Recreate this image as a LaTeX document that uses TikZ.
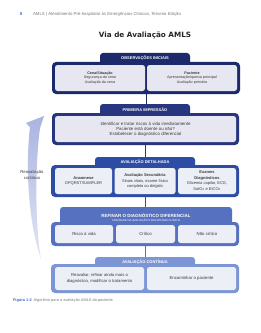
\documentclass[tikz,border=0pt]{standalone}
\usepackage{fontspec}
\setmainfont{Liberation Sans}
\newfontfamily\titlefont{DejaVu Sans}
\definecolor{cA}{HTML}{1C2A6C}
\definecolor{cB}{HTML}{27367F}
\definecolor{cC}{HTML}{2D4DA5}
\definecolor{cD}{HTML}{5671BF}
\definecolor{cE}{HTML}{7C95D5}
\definecolor{panA}{HTML}{E6E7F1}
\definecolor{panB}{HTML}{EDEFF7}
\definecolor{txt}{HTML}{3A3A3A}
\definecolor{hdr}{HTML}{7A7A7A}
\definecolor{figblue}{HTML}{3D6BC4}
\definecolor{arrTop}{HTML}{A9B4E0}
\definecolor{arrBot}{HTML}{E2E6F5}
\tikzset{
  x=2pt, y=-2pt,
  bigbox/.style={rounded corners=8pt, inner sep=0pt, minimum width=376pt},
  tabshape/.style={rounded corners=6pt, inner sep=0pt},
  tablabel/.style={text=white, inner sep=0pt, font=\bfseries\fontsize{8}{9}\selectfont},
  panel/.style={rounded corners=5pt, fill=#1, inner sep=1pt, align=center, text=txt, font=\fontsize{8.6}{10}\selectfont},
  panel/.default=panB,
  conn/.style={line width=2pt},
}
\begin{document}
\begin{tikzpicture}
\useasboundingbox[fill=white] (0,0) rectangle (260,333);

% header
\node[text=figblue, font=\bfseries\fontsize{8.5}{9}\selectfont, inner sep=0pt] (pg) at (21,14) {8};
\node[text=hdr, anchor=west, inner sep=0pt, font=\fontsize{8.6}{9}\selectfont] (hd) at (33,14) {AMLS | Atendimento Pré-hospitalar às Emergências Clínicas, Terceira Edição};

% title
\node[font=\titlefont\bfseries\fontsize{14.5}{16}\selectfont, text=black!85, inner sep=0pt] (title) at (145,35) {Via de Avaliação AMLS};

% continuous reassessment arrow
\shade[top color=arrTop, bottom color=arrBot]
  (41,259) .. controls (35,225) and (35,165) .. (40,128) -- (44,116) -- (26,123) -- (30,127)
  .. controls (25,170) and (29,225) .. (41,259) -- cycle;
\node[align=center, text=txt, inner sep=0pt, font=\fontsize{8.4}{11.5}\selectfont] (reav) at (32,175) {Reavaliação\\contínua};

% box 1
\node[bigbox, fill=cA, minimum height=64pt] (b1) at (146,78) {};
\node[tabshape, fill=cA, minimum width=180pt, minimum height=26pt] (t1) at (145,59.5) {};
\node[tablabel] (l1) at (145,58.5) {OBSERVAÇÕES INICIAIS};
\node[panel=panA, minimum width=180pt, minimum height=52pt, font=\fontsize{7.4}{8.2}\selectfont] (p1a) at (100,78) {\textbf{Cena/Situação}\\Segurança da cena\\Avaliação da cena};
\node[panel=panA, minimum width=180pt, minimum height=52pt, font=\fontsize{7.4}{8.2}\selectfont] (p1b) at (192,78) {\textbf{Paciente}\\Apresentação/queixa principal\\Avaliação primária};

% box 2
\node[bigbox, fill=cB, minimum height=64pt, minimum width=374pt] (b2) at (145.5,129) {};
\node[tabshape, fill=cB, minimum width=180pt, minimum height=26pt] (t2) at (145,110.5) {};
\node[tablabel] (l2) at (145,109.5) {PRIMEIRA IMPRESSÃO};
\node[panel=panA, minimum width=362pt, minimum height=52pt, font=\fontsize{8.8}{10}\selectfont] (p2) at (145.5,129) {Identificar e tratar riscos à vida imediatamente\\Paciente está doente ou não?\\Estabelecer o diagnóstico diferencial};

% box 3
\node[bigbox, fill=cC, minimum height=64pt] (b3) at (145,181) {};
\node[tabshape, fill=cC, minimum width=200pt, minimum height=26pt] (t3) at (145,163.5) {};
\node[tablabel] (l3) at (145,162) {AVALIAÇÃO DETALHADA};
\node[panel, minimum width=114pt, minimum height=52pt, font=\fontsize{8}{10.8}\selectfont] (p3a) at (83.5,181) {\textbf{Anamnese}\\OPQRST/SAMPLER};
\node[panel, minimum width=122pt, minimum height=52pt, font=\fontsize{8}{10.8}\selectfont] (p3b) at (145,181) {\textbf{Avaliação Secundária}\\Sinais vitais, exame físico\\completo ou dirigido};
\node[panel, minimum width=116pt, minimum height=52pt, font=\fontsize{8}{10.8}\selectfont] (p3c) at (207,181) {\textbf{Exames}\\\textbf{Diagnósticos}\\Glicemia capilar, ECG,\\SatO\textsubscript{2} e EtCO\textsubscript{2}};

% box 4
\node[bigbox, fill=cD, minimum height=48pt] (b4) at (145,234) {};
\node[tabshape, fill=cD, minimum width=344pt, minimum height=38pt] (t4) at (146,216.5) {};
\node[tablabel, font=\bfseries\fontsize{9}{10}\selectfont] (l4) at (146,215.5) {REFINAR O DIAGNÓSTICO DIFERENCIAL};
\node[text=white, inner sep=0pt, font=\fontsize{5.6}{6}\selectfont] (l4s) at (146,221) {COM BASE NA AVALIAÇÃO E RACIOCÍNIO CLÍNICO};
\node[panel, minimum width=116pt, minimum height=36pt] (p4a) at (84,234) {Risco à vida};
\node[panel, minimum width=118pt, minimum height=36pt] (p4b) at (145.5,234) {Crítico};
\node[panel, minimum width=116pt, minimum height=36pt] (p4c) at (207,234) {Não crítico};

% box 5
\node[bigbox, fill=cE, minimum height=58pt] (b5) at (145,278.5) {};
\node[tabshape, fill=cE, minimum width=200pt, minimum height=26pt] (t5) at (145,263.5) {};
\node[tablabel] (l5) at (145,262.5) {AVALIAÇÃO CONTÍNUA};
\node[panel, minimum width=178pt, minimum height=46pt, font=\fontsize{8.4}{11.5}\selectfont] (p5a) at (99.5,278.5) {Reavaliar, refinar ainda mais o\\diagnóstico, modificar o tratamento};
\node[panel, minimum width=178pt, minimum height=46pt] (p5b) at (191.5,278.5) {Encaminhar o paciente};

% connectors
\draw[conn, cA] (b1.south) -- (b1.south |- t2.north);
\draw[conn, cB] (b2.south) -- (b2.south |- t3.north);
\draw[conn, cC] (b3.south) -- (b3.south |- t4.north);
\draw[conn, cD] (b4.south) -- (b4.south |- t5.north);

% caption
\node[anchor=west, inner sep=0pt, text=hdr, font=\fontsize{7.8}{9}\selectfont] (cap) at (13,300) {\textcolor{figblue}{\bfseries Figura 1-2}\enspace Algoritmo para a avaliação AMLS do paciente};
\end{tikzpicture}
\end{document}
